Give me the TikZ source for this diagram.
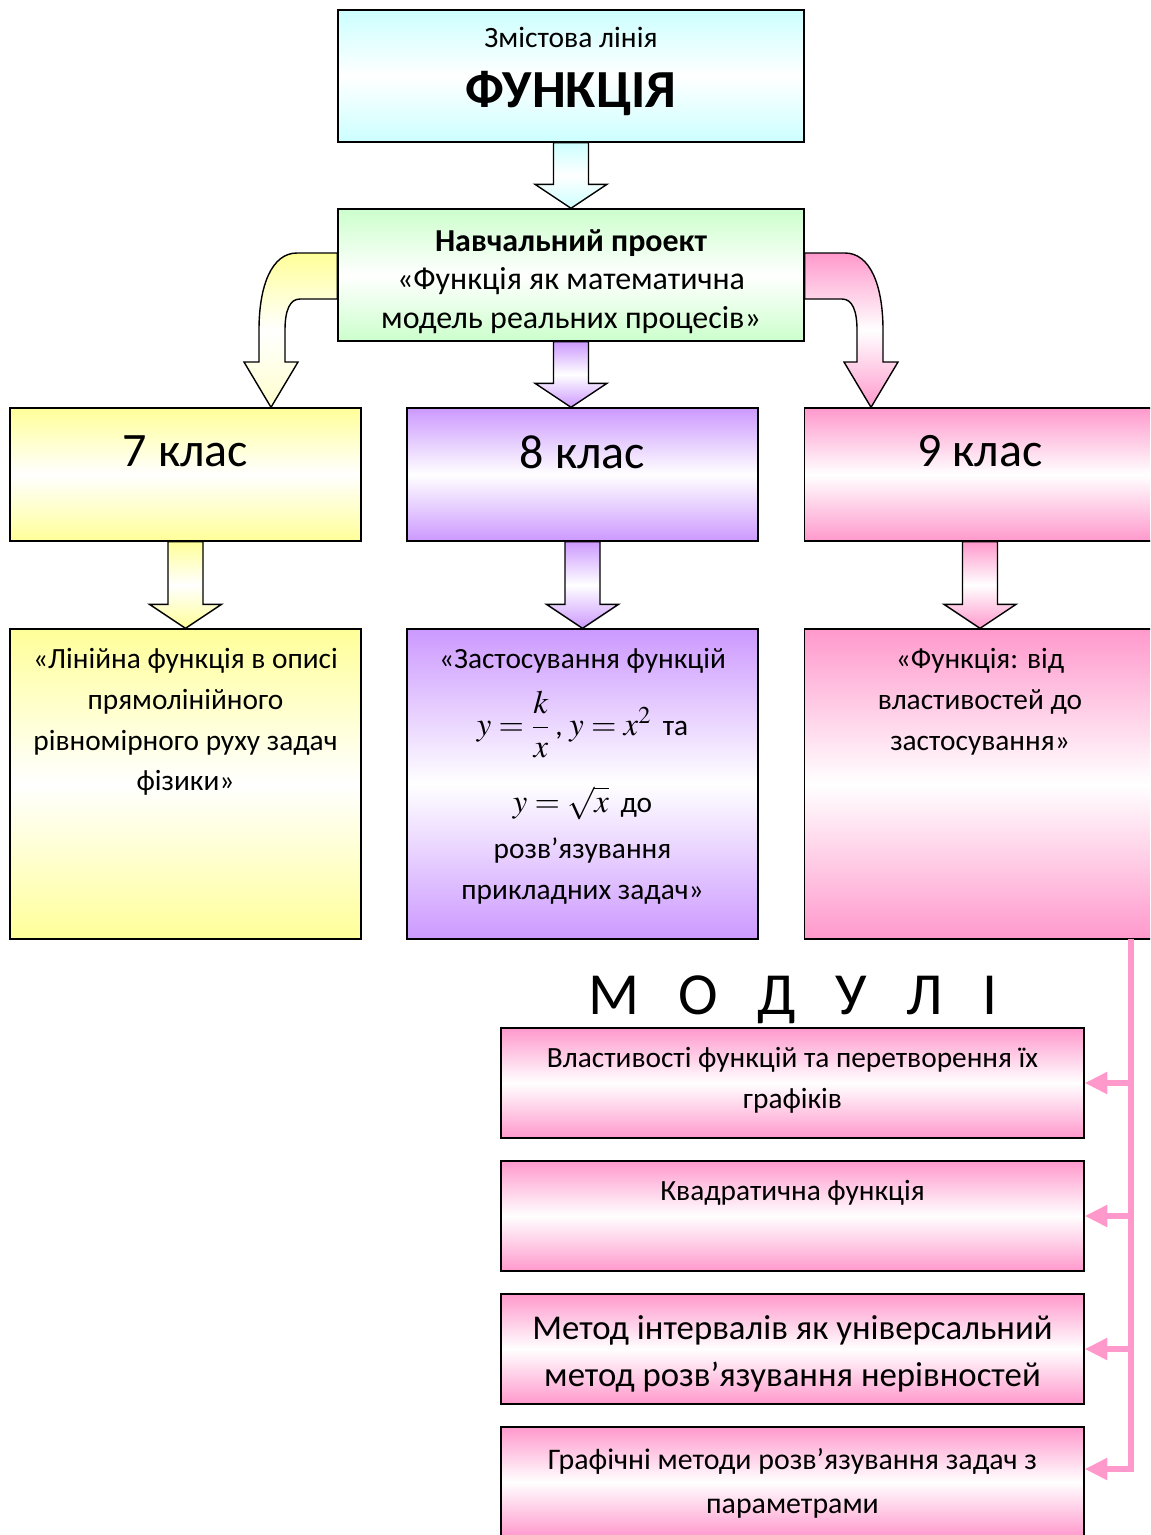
\documentclass[tikz,border=0pt]{standalone}
\usepackage{mathptmx}
\usepackage{fontspec}
\setmainfont{Carlito}
\usetikzlibrary{calc,arrows.meta}

\definecolor{cyanbox}{HTML}{CCFFFF}
\definecolor{greenbox}{HTML}{CCFFCC}
\definecolor{yellowbox}{HTML}{FFFF99}
\definecolor{violetbox}{HTML}{CC99FF}
\definecolor{pinkbox}{HTML}{FF99CC}

\newcommand{\boxtext}[4]{\parbox[c][#2][t]{#1}{\centering\vspace*{#3}#4\par}}
\newcommand{\lsp}{\hspace{22.5pt}}
\newcommand{\bigmath}[1]{{\fontsize{18.6}{23.2}\selectfont$#1$}}
\newcommand{\blockdown}[3]{%
  \path[draw, line width=.8pt, top color=#3, bottom color=#3, middle color=white]
    ($(#1.south)+(-17.5,0)$) -- ($(#1.south |- #2.north)+(-17.5,-24)$)
    -- ($(#1.south |- #2.north)+(-36,-24)$) -- (#1.south |- #2.north)
    -- ($(#1.south |- #2.north)+(36,-24)$) -- ($(#1.south |- #2.north)+(17.5,-24)$)
    -- ($(#1.south)+(17.5,0)$) -- cycle;}

\begin{document}
\begin{tikzpicture}[x=0.02cm, y=-0.02cm,
    card/.style={draw, line width=.8pt, inner sep=0pt},
    grad/.style={top color=#1, bottom color=#1, middle color=white}]
  \clip (0,0) rectangle (1150,1535);

  \begin{scope}[every node/.style={card}]
    \node[grad=cyanbox] (line) at (571,76)
      {\boxtext{9.32cm}{2.64cm}{9.5pt}{\fontsize{16.8}{18}\selectfont Змістова лінія\\
        \fontsize{30.5}{34.5}\selectfont\bfseries ФУНКЦІЯ}};
    \node[grad=greenbox, font=\fontsize{18.2}{22.1}\selectfont] (green) at (571,275)
      {\boxtext{9.32cm}{2.64cm}{11.5pt}{\textbf{Навчальний проект}\\
        «Функція як математична\\ модель реальних процесів»}};
  \end{scope}

  \begin{scope}[every node/.style={card, font=\fontsize{27.3}{30}\selectfont}]
    \node[grad=yellowbox] (c7) at (185.5,474.5) {\boxtext{7.02cm}{2.66cm}{15.5pt}{7 клас}};
    \node[grad=violetbox] (c8) at (582.5,474.5) {\boxtext{7.02cm}{2.66cm}{15.5pt}{8 клас}};
    \node[grad=pinkbox]   (c9) at (980,474.5)   {\boxtext{7.02cm}{2.66cm}{15.5pt}{9 клас}};
  \end{scope}

  \begin{scope}[every node/.style={card, font=\fontsize{16.7}{23.2}\selectfont}]
    \node[grad=yellowbox] (l7) at (185.5,784)
      {\boxtext{7.02cm}{6.2cm}{11pt}{«Лінійна функція в описі\\ прямолінійного\\
        рівномірного руху задач\\ фізики»}};
    \node[grad=violetbox] (l8) at (582.5,784)
      {\boxtext{7.02cm}{6.2cm}{11pt}{«Застосування функцій\\[9pt]
        \bigmath{y=\displaystyle\frac{k}{x}}\,,\ \bigmath{y=x^2}\, та\\[15pt]
        \bigmath{y=\sqrt{x}}\, до\\[3pt] розв’язування\\ прикладних задач»}};
    \node[grad=pinkbox] (l9) at (980,784)
      {\boxtext{7.02cm}{6.2cm}{11pt}{«Функція: від\\ властивостей до\\ застосування»}};

    \node[grad=pinkbox] (m1) at (792.5,1083)
      {\boxtext{11.66cm}{2.2cm}{11pt}{Властивості функцій та перетворення їх\\ графіків}};
    \node[grad=pinkbox] (m2) at (792.5,1216)
      {\boxtext{11.66cm}{2.2cm}{11pt}{Квадратична функція}};
    \node[grad=pinkbox, font=\fontsize{19.8}{27}\selectfont] (m3) at (792.5,1349)
      {\boxtext{11.66cm}{2.2cm}{12pt}{Метод інтервалів як універсальний\\
        метод розв’язування нерівностей}};
    \node[grad=pinkbox, font=\fontsize{17}{25}\selectfont] (m4) at (792.5,1482)
      {\boxtext{11.66cm}{2.2cm}{12pt}{Графічні методи розв’язування задач з\\ параметрами}};
  \end{scope}

  \node (modtitle) at (793,1000) {\fontsize{34}{40}\selectfont М\lsp О\lsp Д\lsp У\lsp Л\lsp І};

  \blockdown{line}{green}{cyanbox}
  \blockdown{green}{c8}{violetbox}
  \blockdown{c7}{l7}{yellowbox}
  \blockdown{c8}{l8}{violetbox}
  \blockdown{c9}{l9}{pinkbox}

  \path[draw, line width=.8pt, top color=yellowbox, bottom color=yellowbox!50, middle color=white]
    ($(green.west)+(0,-22)$) -- (297,253) .. controls (272,253) and (259,285) .. (259,330)
    -- (259,362) -- (244,362) -- ($(c7.north)+(85.5,0)$) -- (298,362) -- (285,362)
    -- (285,330) .. controls (285,310) and (290,299) .. (300,299)
    -- ($(green.west)+(0,24)$) -- cycle;
  \path[draw, line width=.8pt, top color=pinkbox, bottom color=pinkbox, middle color=white]
    ($(green.east)+(0,-22)$) -- (845,253) .. controls (870,253) and (883,285) .. (883,330)
    -- (883,362) -- (898,362) -- ($(c9.north)+(-109,0)$) -- (844,362) -- (857,362)
    -- (857,330) .. controls (857,310) and (852,299) .. (842,299)
    -- ($(green.east)+(0,24)$) -- cycle;

  \coordinate (bus) at (1131,939);
  \begin{scope}[pinkbox, line width=3.5pt, -{Triangle[length=13pt,width=12pt]}]
    \draw (bus) |- ($(m4.east)+(0,-13)$);
    \foreach \m in {m1,m2,m3}
      \draw (bus |- \m.east) -- (\m.east);
  \end{scope}

\end{tikzpicture}
\end{document}
